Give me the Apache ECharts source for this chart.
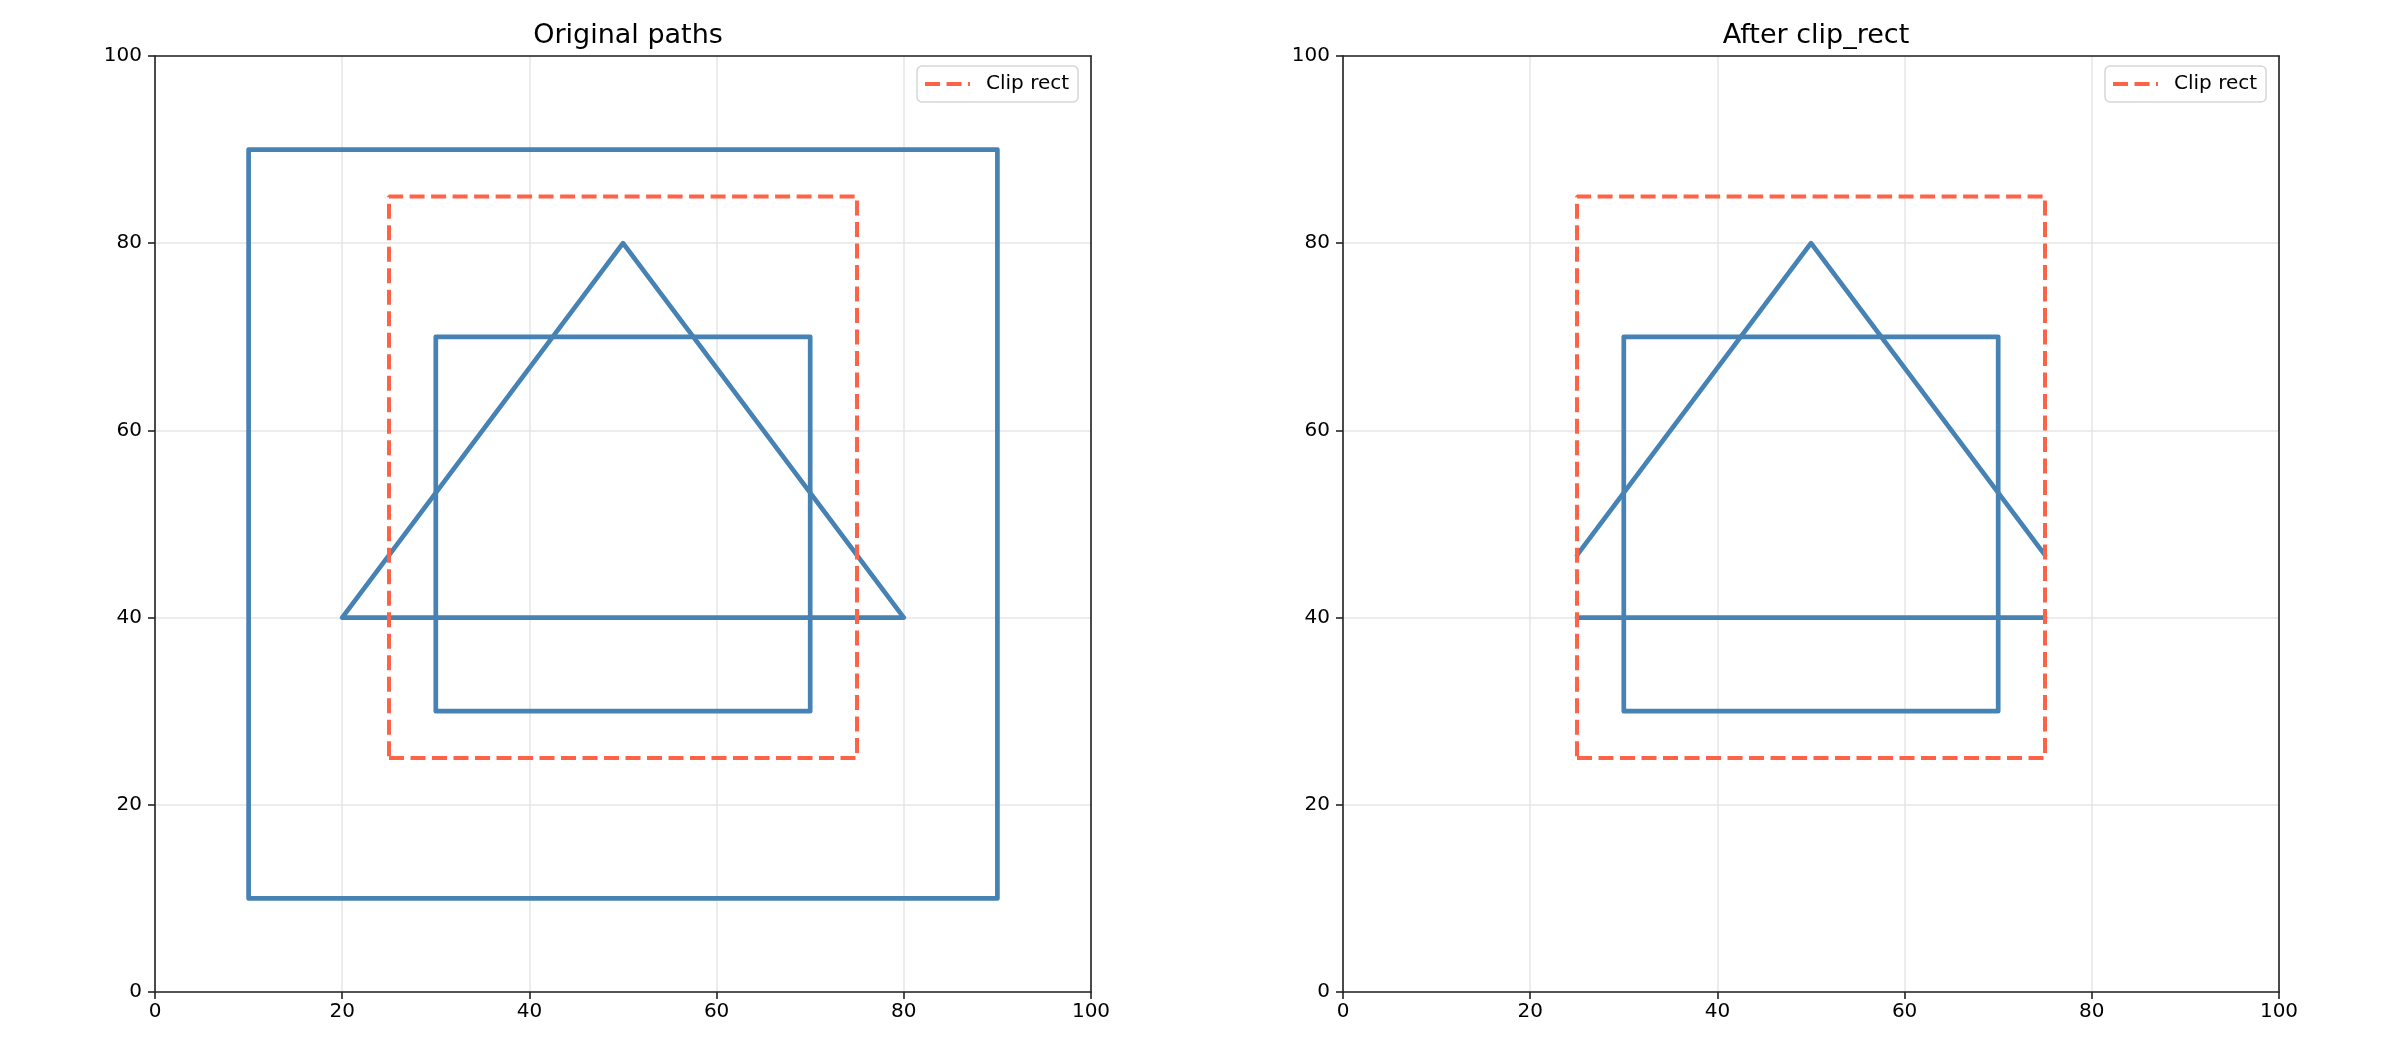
<!DOCTYPE html>
<html>
<head>
<meta charset="utf-8">
<script src="https://cdn.jsdelivr.net/npm/echarts@6/dist/echarts.min.js"></script>
<style>
  html, body { margin: 0; padding: 0; background: #fff; }
  #main { width: 2400px; height: 1050px; }
</style>
</head>
<body>
<div id="main"></div>
<script>
// shapes as [x, y] vertex lists
const outerSquare = [[10, 10], [90, 10], [90, 90], [10, 90], [10, 10]]
const innerSquare = [[30, 30], [70, 30], [70, 70], [30, 70], [30, 30]]
const triangle = [[20, 40], [50, 80], [80, 40], [20, 40]]
const clipRect = [[25, 25], [75, 25], [75, 85], [25, 85], [25, 25]]
// what is left after clipping to clipRect
const clippedSides = [[25, 46.67], [50, 80], [75, 46.67]]
const clippedBase = [[75, 40], [25, 40]]
const tickValues = [0, 20, 40, 60, 80, 100]
const titles = ['Original paths', 'After clip_rect']

const chartDom = document.querySelector('#main')
const myChart = echarts.init(chartDom)

const font = 'DejaVu Sans'
const blue = '#4682b4'
const red = '#ff6347'
const plotLeft = [155, 1343]
const plotSize = 936

function axis (dim, idx) {
  return {
    type: 'value',
    gridIndex: idx,
    min: tickValues[0],
    max: tickValues[tickValues.length - 1],
    interval: tickValues[1] - tickValues[0],
    axisLine: { show: true, onZero: false, lineStyle: { color: '#222', width: 1.6 } },
    axisTick: { show: true, length: 7, lineStyle: { color: '#222', width: 1.6 } },
    axisLabel: {
      color: '#000',
      fontFamily: font,
      fontSize: 20,
      margin: dim === 'x' ? 10 : 13
    },
    splitLine: { show: true, lineStyle: { color: '#e6e6e6', width: 1.5 } }
  }
}

// plain top / right spine
function spine (idx, pos) {
  return {
    type: 'value',
    gridIndex: idx,
    position: pos,
    min: tickValues[0],
    max: tickValues[tickValues.length - 1],
    axisLine: { show: true, onZero: false, lineStyle: { color: '#222', width: 1.6 } },
    axisTick: { show: false },
    axisLabel: { show: false },
    splitLine: { show: false }
  }
}

function shape (data, idx, name) {
  return {
    type: 'line',
    name: name,
    xAxisIndex: idx,
    yAxisIndex: idx,
    data: data,
    symbol: 'none',
    z: 2,
    lineStyle: { color: blue, width: 4.7, cap: 'round', join: 'round' },
    itemStyle: { color: blue }
  }
}

function dashed (idx) {
  return {
    type: 'line',
    name: 'Clip rect',
    xAxisIndex: idx,
    yAxisIndex: idx,
    data: clipRect,
    symbol: 'none',
    z: 3,
    lineStyle: { color: red, width: 4, type: [15, 6.5], cap: 'butt' },
    itemStyle: { color: red }
  }
}

function legend (left) {
  return {
    data: ['Clip rect'],
    left: left,
    top: 66,
    itemWidth: 45,
    itemHeight: 14,
    padding: [8, 9, 8, 6],
    borderColor: '#d6d6d6',
    borderWidth: 1.5,
    borderRadius: 5,
    backgroundColor: '#fff',
    selectedMode: false,
    itemStyle: { opacity: 0 },
    lineStyle: { opacity: 1, width: 4, type: [15, 6.5] },
    textStyle: { color: '#000', fontFamily: font, fontSize: 20, padding: [0, 0, 0, 11] }
  }
}

const option = {
  animation: false,
  backgroundColor: '#fff',
  title: titles.map((t, i) => ({
    text: t,
    left: plotLeft[i] + plotSize / 2,
    top: 17,
    textAlign: 'center',
    textStyle: { fontFamily: font, fontSize: 27, fontWeight: 'normal', color: '#000' }
  })),
  legend: [legend(917), legend(2105)],
  grid: plotLeft.map(l => ({
    left: l,
    top: 56,
    width: plotSize,
    height: plotSize
  })),
  xAxis: [axis('x', 0), axis('x', 1), spine(0, 'top'), spine(1, 'top')],
  yAxis: [axis('y', 0), axis('y', 1), spine(0, 'right'), spine(1, 'right')],
  series: [
    shape(outerSquare, 0),
    shape(innerSquare, 0),
    shape(triangle, 0),
    dashed(0),
    shape(innerSquare, 1),
    shape(clippedSides, 1),
    shape(clippedBase, 1),
    dashed(1)
  ]
}

option && myChart.setOption(option)
</script>
</body>
</html>
